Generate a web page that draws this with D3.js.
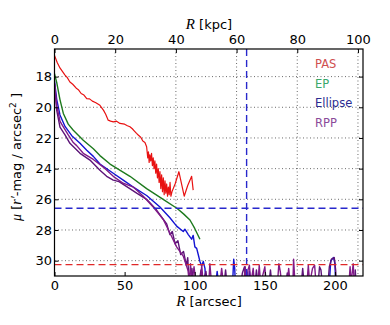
<!DOCTYPE html>
<html>
<head>
<meta charset="utf-8">
<script src="https://cdn.jsdelivr.net/npm/d3@7"></script>
<style>
  body { margin: 0; background: #fff; }
  svg text { font-family: "DejaVu Sans", sans-serif; }
</style>
</head>
<body>
<svg id="chart" width="390" height="325"></svg>
<script>
// surface brightness profiles, [R arcsec, mu]
var pas = [[0,16.62],[2,17.1],[4,17.45],[7.5,17.9],[9,18.05],[11,18.35],[13,18.5],[15.8,18.78],[17,18.85],
  [19,19.1],[21,19.2],[23,19.43],[25,19.45],[27,19.6],[29.5,19.7],[32.4,19.87],[35,20.2],[36.5,20.45],
  [38.3,20.84],[40,20.9],[42,20.95],[44,20.9],[46.7,21.05],[50,21.1],[52,21.2],[53.8,21.27],[55.5,21.4],
  [57,21.55],[58.5,21.7],[59.7,21.81],[61.5,21.95],[63,22.2],[64.5,22.3],[65.7,22.57],[66.5,23.3],[67,22.9],
  [67.5,23.6],[68,23.1],[68.6,23.5],[69.2,23.0],[69.8,23.8],[70.4,23.3],[71,24.0],[71.6,23.5],[72.2,24.3],
  [72.8,23.7],[73.4,24.6],[74,24.0],[74.6,24.9],[75.2,24.2],[75.8,25.3],[76.4,24.4],[77,25.5],[77.6,24.6],
  [78.2,25.7],[78.8,24.8],[79.4,25.6],[80,25.0],[80.6,25.8],[81.2,25.2],[81.8,25.7],[82.4,24.9],[83,25.8],
  [83.8,25.5],[86,25.0],[88.7,24.2],[92.5,25.8],[95,25.1],[97.8,24.5],[98.9,25.4]];
var ep = [[0,17.8],[1.6,18.4],[3.9,19.5],[6.3,20.4],[9.8,21.1],[13.4,21.5],[20.5,22.15],[27.7,22.7],
  [32.4,23.15],[39.6,23.7],[53.8,24.5],[65.7,25.3],[77.5,26.0],[87.5,26.6],[92,26.95],[96.6,27.35],
  [100,27.9],[103.7,28.6]];
var ellipse = [[0,18.3],[1.6,19.5],[3.9,20.5],[7.5,21.25],[12.3,21.85],[18.2,22.35],[23,22.8],[27.7,23.2],
  [32.4,23.7],[41.9,24.3],[49,24.75],[56.2,25.2],[65.7,25.75],[75.2,26.5],[82.3,27.2],[87.1,27.75],
  [91.8,28.1],[93,27.95],[95.4,28.3],[97.8,28.6],[98.9,28.35],[100.1,29.1],[101.4,29.2],[102.5,29.6],
  [103.7,30.05],[104.9,30.35],[106.1,30.05],[107.3,30.5],[108,31.5],[115,31.5],[116,30.7],[117,31.5],
  [127,31.5],[127.8,29.9],[128.5,30.5],[129,31.5],[138,31.5],[139,30.7],[140,31.5],[196,31.5],[197,30.0],
  [199,29.8],[200,30.2],[200.5,31.5]];
var rpp1 = [[0,18.4],[1.6,19.9],[3.9,20.9],[5.1,21.1],[9.8,21.8],[13.4,22.3],[15.8,22.5],[20.5,23.0],
  [27.7,23.4],[34.8,23.9],[41.9,24.5],[49,24.95],[56.2,25.2],[63.3,25.8],[70.4,26.5],[77.5,27.3],
  [82.3,28.2],[87.1,29.1],[91.8,29.7],[95.4,30.7],[96,31.5],[97,30.2],[98,31.5],[99.5,30.4],[101,31.5],
  [104,31.5],[105,30.3],[106,31.5],[110,31.5],[110.8,30.2],[112,31.5],[118,31.5],[119.2,30.5],[120.5,31.5],
  [135,31.5],[136,30.4],[137,31.5],[138,30.6],[139,30.3],[140,31.5],[141.7,30.5],[142.5,31.5],[145,31.5],
  [146,30.3],[147,31.5],[150,30.4],[151,31.5],[159,31.5],[160,30.2],[161,30.7],[162,31.5],[166,31.5],
  [167,30.5],[168,31.5],[170,31.5],[170.5,29.9],[171.5,31.5],[180,31.5],[181,30.3],[182,31.5],[184,30.5],
  [185.5,30.3],[186.5,31.5],[210,31.5],[210.8,30.4],[211.5,31.5],[213,30.2],[213.8,31.5]];
var rpp2 = [[0,18.5],[1.6,20.2],[3.9,21.3],[7.5,21.8],[11,22.35],[18.2,23.0],[25.3,23.44],[32.4,24.1],
  [37.2,24.5],[41.9,24.75],[46,24.85],[51.5,25.17],[58.6,25.6],[65.7,26.0],[72.8,26.7],[77.5,27.3],
  [80,27.6],[82.3,28.3],[84,28.1],[86,28.9],[88,28.7],[90,29.6],[92,29.4],[94,30.3],[95,29.8],[96,31.5],
  [97,31.5],[98,30.5],[99,31.5],[103,31.5],[104.5,30.6],[105.5,31.5],[108,30.7],[109,31.5],[121,31.5],
  [122,30.6],[123,31.5],[133,31.5],[134,30.8],[135.5,30.4],[136.5,31.5],[143,31.5],[144,30.6],[145,31.5],
  [153,31.5],[154,30.6],[155,31.5],[165,31.5],[166,30.8],[167,31.5],[176,31.5],[177,30.5],[178,31.5],
  [188,31.5],[189,30.4],[190,30.6],[191,31.5],[195,31.5],[196,30.4],[197.5,29.9],[199.5,29.8],[200.5,30.6],
  [201,31.5],[214,31.5],[214.5,30.6],[215,31.5]];

var arcsecTicks = [0, 50, 100, 150, 200];
var kpcTicks = [0, 20, 40, 60, 80, 100];
var muTicks = [18, 20, 22, 24, 26, 28, 30];
var kpcPerArcsec = 0.4621;
var muLimit = 26.58;      // blue dashed horizontal
var rLimit = 137;         // blue dashed vertical
var skyLimit = 30.26;     // red dashed
var legendNames = ["PAS", "EP", "Ellipse", "RPP"];
var legendColors = ["#cf4f4f", "#3aa86a", "#2b2b90", "#8a4a9a"];

var svg = d3.select("#chart");
var x = d3.scaleLinear().domain([0, 220]).range([54.5, 363]);
var xk = d3.scaleLinear().domain([0, 220 * kpcPerArcsec]).range([54.5, 363]);
var y = d3.scaleLinear().domain([16.2, 31]).range([49, 276]);
var L = 54.5, R = 363, T = 49, B = 276;

svg.append("clipPath").attr("id", "clip")
  .append("rect").attr("x", L).attr("y", T).attr("width", R - L).attr("height", B - T);

// grid (from top axis and left axis)
var grid = svg.append("g").attr("stroke", "#444").attr("stroke-width", 0.8)
  .attr("stroke-dasharray", "1,2.5");
grid.selectAll("line.v").data(kpcTicks.slice(1)).enter().append("line")
  .attr("x1", d => xk(d)).attr("x2", d => xk(d)).attr("y1", T).attr("y2", B);
grid.selectAll("line.h").data(muTicks).enter().append("line")
  .attr("x1", L).attr("x2", R).attr("y1", d => y(d)).attr("y2", d => y(d));

var plot = svg.append("g").attr("clip-path", "url(#clip)");
var line = d3.line().x(d => x(d[0])).y(d => y(d[1]));

var series = [
  {d: pas, c: "#e81212", w: 1.2},
  {d: ep, c: "#1e7a1e", w: 1.4},
  {d: ellipse, c: "#1414d2", w: 1.4},
  {d: rpp2, c: "#5c1478", w: 1.4},
  {d: rpp1, c: "#801a88", w: 1.4}
];
series.forEach(function(s) {
  plot.append("path").attr("d", line(s.d)).attr("fill", "none")
    .attr("stroke", s.c).attr("stroke-width", s.w).attr("stroke-linejoin", "round");
});

// limits
plot.append("line").attr("x1", L).attr("x2", R).attr("y1", y(muLimit)).attr("y2", y(muLimit))
  .attr("stroke", "#2828cc").attr("stroke-width", 1.4).attr("stroke-dasharray", "7,4");
plot.append("line").attr("x1", x(rLimit)).attr("x2", x(rLimit)).attr("y1", T).attr("y2", B)
  .attr("stroke", "#2828cc").attr("stroke-width", 1.4).attr("stroke-dasharray", "7,4");
plot.append("line").attr("x1", L).attr("x2", R).attr("y1", y(skyLimit)).attr("y2", y(skyLimit))
  .attr("stroke", "#e02828").attr("stroke-width", 1.4).attr("stroke-dasharray", "7,4");

// axes with inward ticks
svg.append("g").attr("transform", "translate(0," + B + ")")
  .call(d3.axisBottom(x).tickValues(arcsecTicks).tickSizeInner(-4).tickSizeOuter(0).tickPadding(5))
  .call(g => g.select(".domain").remove());
svg.append("g").attr("transform", "translate(0," + T + ")")
  .call(d3.axisTop(xk).tickValues(kpcTicks).tickSizeInner(-4).tickSizeOuter(0).tickPadding(5))
  .call(g => g.select(".domain").remove());
svg.append("g").attr("transform", "translate(" + L + ",0)")
  .call(d3.axisLeft(y).tickValues(muTicks).tickSizeInner(-4).tickSizeOuter(0).tickPadding(2.5))
  .call(g => g.select(".domain").remove());
svg.append("g").attr("transform", "translate(" + R + ",0)")
  .call(d3.axisRight(y).tickValues(muTicks).tickSizeInner(-4).tickSizeOuter(0).tickFormat(""))
  .call(g => g.select(".domain").remove());
svg.selectAll(".tick text").attr("font-size", 13).attr("fill", "#000");
svg.selectAll(".tick line").attr("stroke", "#000");

svg.append("rect").attr("x", L).attr("y", T).attr("width", R - L).attr("height", B - T)
  .attr("fill", "none").attr("stroke", "#000").attr("stroke-width", 1.2);

// labels
function rLabel(t, cx, by) {
  var tx = svg.append("text").attr("x", cx).attr("y", by).attr("text-anchor", "middle").attr("font-size", 13);
  tx.append("tspan").attr("font-family", "Liberation Serif, serif").attr("font-style", "italic")
    .attr("font-size", 15).text("R");
  tx.append("tspan").text(" " + t);
}
rLabel("[kpc]", 209, 29);
rLabel("[arcsec]", 209, 306);

var yl = svg.append("text").attr("transform", "translate(21,157) rotate(-90)")
  .attr("text-anchor", "middle").attr("font-size", 13);
yl.append("tspan").attr("font-family", "Liberation Serif, serif").attr("font-style", "italic")
  .attr("font-size", 14).text("μ");
yl.append("tspan").text(" [");
yl.append("tspan").attr("font-family", "Liberation Serif, serif").attr("font-style", "italic")
  .attr("font-size", 14).text("r′");
yl.append("tspan").text("-mag / arcsec");
yl.append("tspan").attr("font-size", 9).attr("dy", -5).text("2");
yl.append("tspan").attr("dy", 5).text(" ]");

// legend
svg.selectAll("text.leg").data(legendNames).enter().append("text")
  .attr("class", "leg").attr("x", 315).attr("y", (d, i) => 68 + i * 19.7)
  .attr("font-size", 11.5).attr("fill", (d, i) => legendColors[i]).text(d => d);
</script>
</body>
</html>
